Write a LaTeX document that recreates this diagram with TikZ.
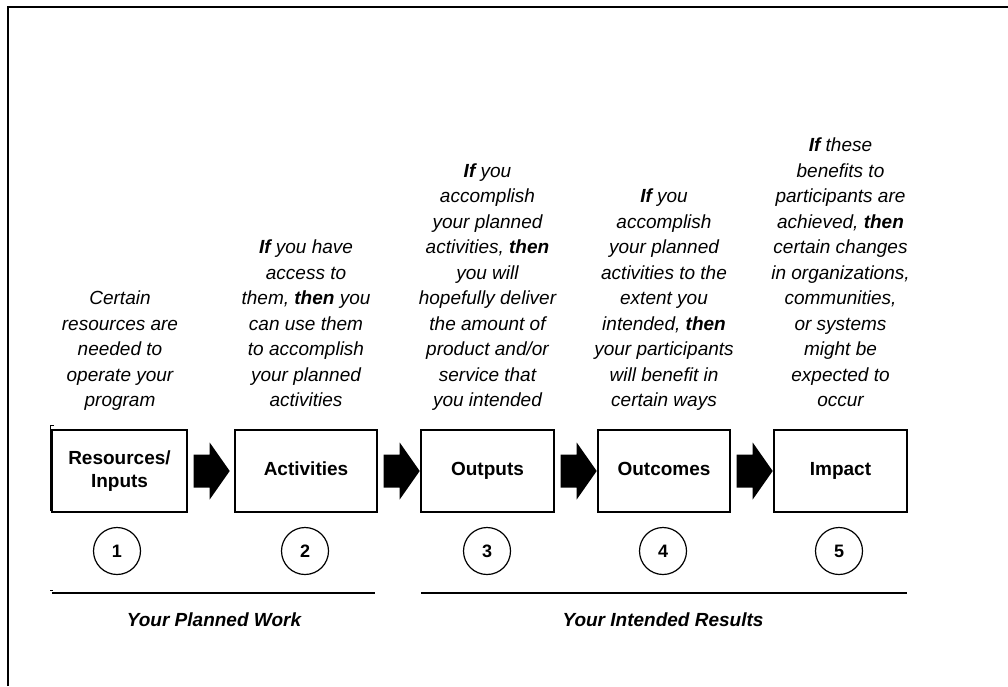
\documentclass[tikz,border=0pt]{standalone}
\usepackage{fontspec}
\setmainfont{Liberation Sans}
\usetikzlibrary{calc}
\newcommand\blockarrow[2]{%
  \coordinate (#2) at ($(#1.east)+(6,0)$);
  \fill[black] (#2) ++(0,-16.5) -- ++(16,0) -- ++(0,-12) -- ++(20,28.5)
    -- ++(-20,28.5) -- ++(0,-12) -- ++(-16,0) -- cycle;}
\begin{document}
\begin{tikzpicture}[x=1pt,y=-1pt,
  box/.style={draw, line width=1.4pt, minimum height=82pt, inner sep=0pt, align=center,
    font=\fontsize{19}{23}\selectfont\bfseries},
  num/.style={draw, circle, line width=1.2pt, minimum size=47pt, inner sep=0pt,
    font=\fontsize{18}{20}\selectfont\bfseries},
  desc/.style={anchor=south, align=center, inner sep=0pt,
    font=\fontsize{19}{25.5}\selectfont\itshape},
  grouplabel/.style={font=\fontsize{19}{22}\selectfont\bfseries\itshape},
  rule/.style={line width=1.3pt}
]
\useasboundingbox (0,0) rectangle (1008,686);
\fill[white] (0,0) rectangle (1008,686);
\draw[line width=2.2pt] (8,686) -- (8,7) -- (1008,7);

% boxes
\node[box, minimum width=135pt] (b1) at (119.5,471) {Resources/\\Inputs};
\node[box, minimum width=142pt] (b2) at (306,471) {Activities\vphantom{p}};
\node[box, minimum width=133pt] (b3) at (487.5,471) {Outputs};
\node[box, minimum width=132pt] (b4) at (664,471) {Outcomes\vphantom{p}};
\node[box, minimum width=133pt] (b5) at (840.5,471) {Impact};

% block arrows between boxes
\blockarrow{b1}{a1}
\blockarrow{b2}{a2}
\blockarrow{b3}{a3}
\blockarrow{b4}{a4}

% bracket artefact
\draw[line width=1pt] (54,425) -- (50,425) -- (50,510) -- (53,510);
\draw[line width=1pt] (50,590) -- (53,590);

% descriptions
\node[desc] (d1) at (120,414.6) {Certain\\resources are\\needed to\\operate your\\program\strut};
\node[desc] (d2) at (306,414.6) {\textbf{If} you have\\access to\\them, \textbf{then} you\\can use them\\to accomplish\\your planned\\activities\strut};
\node[desc] (d3) at (487.5,414.6) {\textbf{If} you\\accomplish\\your planned\\activities, \textbf{then}\\you will\\hopefully deliver\\the amount of\\product and/or\\service that\\you intended\strut};
\node[desc] (d4) at (664,414.6) {\textbf{If} you\\accomplish\\your planned\\activities to the\\extent you\\intended, \textbf{then}\\your participants\\will benefit in\\certain ways\strut};
\node[desc] (d5) at (840.5,414.6) {\textbf{If} these\\benefits to\\participants are\\achieved, \textbf{then}\\certain changes\\in organizations,\\communities,\\or systems\\might be\\expected to\\occur\strut};

% numbers
\node[num] (n1) at (117,551) {1};
\node[num] (n2) at (305,551) {2};
\node[num] (n3) at (487,551) {3};
\node[num] (n4) at (663,551) {4};
\node[num] (n5) at (839,551) {5};

% group rules
\coordinate (pwL) at (52,593);
\coordinate (pwR) at (375,593);
\coordinate (irL) at (421,593);
\coordinate (irR) at (907,593);
\draw[rule] (pwL) -- (pwR);
\draw[rule] (irL) -- (irR);

\node[grouplabel] (pw) at (214,620) {Your Planned Work};
\node[grouplabel] (ir) at (663,620) {Your Intended Results};
\end{tikzpicture}
\end{document}
